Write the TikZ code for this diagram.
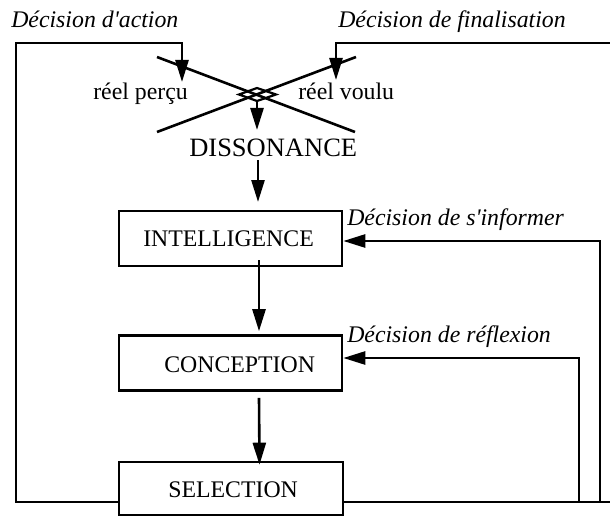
\documentclass[tikz,border=0pt]{standalone}
\usepackage{fontspec}
\setmainfont{Liberation Serif}[Ligatures=TeXOff]
\usetikzlibrary{arrows.meta}
\begin{document}
\begin{tikzpicture}[x=1pt,y=-1pt,
  line width=2.6pt,
  lbl/.style={inner sep=0pt, anchor=base west, font=\fontsize{23.8}{28}\selectfont},
  ilbl/.style={inner sep=0pt, anchor=base west, font=\fontsize{23.8}{28}\selectfont\itshape},
  boxnode/.style={draw, line width=2.6pt, inner sep=0pt, minimum width=223pt, minimum height=55pt},
  arr/.style={-{Triangle[length=22pt,width=13pt]}, line width=2.6pt},
]
\useasboundingbox (0,0) rectangle (610,516);

% boxes
\node[boxnode] (intel) at (230.5,238.5) {};
\node[boxnode] (concept) at (230.5,363) {};
\node[boxnode, minimum width=224pt, minimum height=53pt] (select) at (231,488.5) {};

% texts
\node[lbl] (intelT) at (142,246) {INTELLIGENCE};
\node[lbl] (conceptT) at (163,372) {CONCEPTION};
\node[lbl] (selectT) at (167,497) {SELECTION};
\node[lbl, font=\fontsize{26.5}{30}\selectfont] (diss) at (188,157) {DISSONANCE};
\node[lbl] (percu) at (92,100) {réel perçu};
\node[lbl] (voulu) at (297,100) {réel voulu};
\node[ilbl] (dact) at (10,28) {Décision d'action};
\node[ilbl] (dfin) at (337,28) {Décision de finalisation};
\node[ilbl] (dinf) at (346,225) {Décision de s'informer};
\node[ilbl] (dref) at (346,342) {Décision de réflexion};

% crossing
\coordinate (a1) at (157,57);
\coordinate (a2) at (355,132);
\coordinate (b1) at (157,132);
\coordinate (b2) at (356,57);
\draw (a1) -- (a2);
\draw (b1) -- (b2);
\coordinate (dl) at (239,94.5);
\coordinate (dt) at (257,88);
\coordinate (dr) at (276,94.5);
\coordinate (db) at (257,101);
\draw[line width=2.2pt] (dl) -- (dt) -- (dr) -- (db) -- cycle;

% vertical flow
\coordinate (dtip) at (257,130);
\draw[arr] (db) -- (dtip);
\coordinate (dissB) at (258,160);
\coordinate (intTip) at (258,202);
\draw[arr] (dissB) -- (intTip);
\draw[arr] ([xshift=28.5pt,yshift=7pt]intel.south) -- ([xshift=28.5pt,yshift=3pt]concept.north);
\draw[arr] ([xshift=28.5pt,yshift=-6pt]concept.south) -- ([xshift=28.5pt,yshift=-4pt]select.north);

% feedback loops
\coordinate (tl) at (16,43);
\coordinate (perTip) at (182,82);
\draw[arr] ([yshift=-13.5pt]select.west) -| (tl) -| (perTip);
\coordinate (tr) at (610,43);
\coordinate (vouTip) at (336,80);
\draw[arr] (tr) -| (vouTip);
\coordinate (br) at (610,502);
\draw ([yshift=-13.5pt]select.east) -- (br);
\coordinate (rInfo) at (600,502);
\draw[arr] (rInfo) |- ([yshift=-2.5pt]intel.east);
\coordinate (rRef) at (579,502);
\draw[arr] (rRef) |- ([yshift=5pt]concept.east);
\end{tikzpicture}
\end{document}
